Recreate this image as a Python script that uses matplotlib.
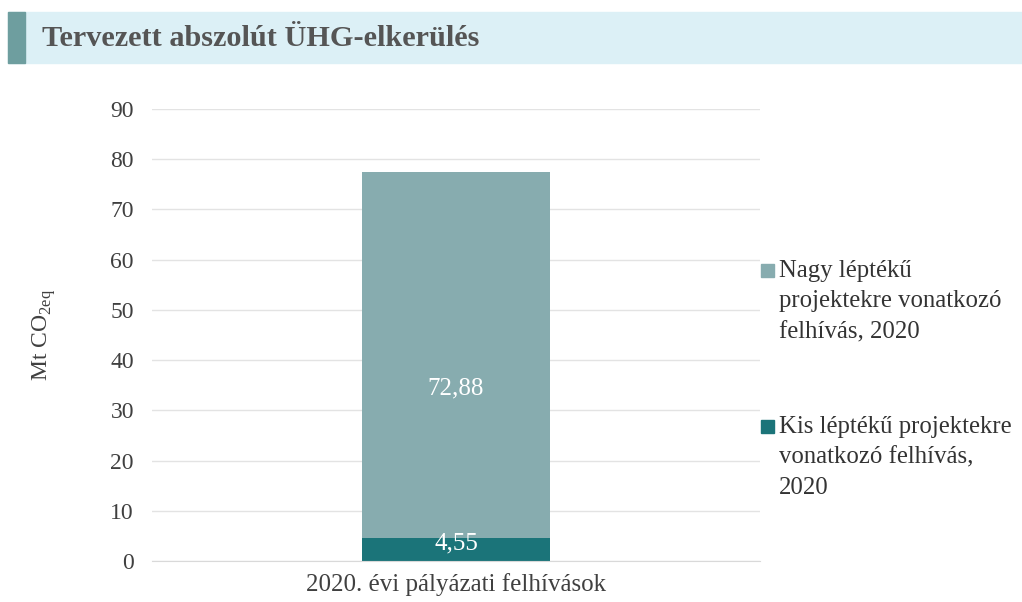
import matplotlib.pyplot as plt
from matplotlib.patches import Rectangle

plt.rcParams['font.family'] = ['Liberation Serif', 'DejaVu Serif']
plt.rcParams['mathtext.fontset'] = 'custom'
plt.rcParams['mathtext.rm'] = 'Liberation Serif'

category = ["2020. évi pályázati felhívások"]
small_values = [4.55]
large_values = [72.88]
series_labels = ["Kis léptékű projektekre\nvonatkozó felhívás,\n2020",
                 "Nagy léptékű\nprojektekre vonatkozó\nfelhívás, 2020"]
yticks = [0, 10, 20, 30, 40, 50, 60, 70, 80, 90]

c_small = "#1b7479"
c_large = "#87acaf"
W, H = 1022, 602

fig = plt.figure(figsize=(W / 100, H / 100), dpi=100)

# title banner
fig.patches.append(Rectangle((8 / W, 1 - 63 / H), (W - 8) / W, 51 / H,
                             transform=fig.transFigure, color="#dcf0f6", zorder=0))
fig.patches.append(Rectangle((8 / W, 1 - 63 / H), 17 / W, 51 / H,
                             transform=fig.transFigure, color="#6e9e9f", zorder=1))
fig.text(42 / W, 1 - 39 / H, "Tervezett abszolút ÜHG-elkerülés", fontsize=21.8,
         fontweight="bold", color="#555555", va="center", ha="left")

ax = fig.add_axes([152 / W, 1 - 561 / H, 608 / W, 452 / H])
x = range(len(category))
b1 = ax.bar(x, small_values, width=0.31, color=c_small, zorder=2)
b2 = ax.bar(x, large_values, width=0.31, bottom=small_values, color=c_large, zorder=2)

for i in x:
    ax.text(i, small_values[i] / 2 + 1.2, f"{small_values[i]:.2f}".replace(".", ","),
            ha="center", va="center", color="white", fontsize=18)
    ax.text(i, small_values[i] + large_values[i] * 0.41, f"{large_values[i]:.2f}".replace(".", ","),
            ha="center", va="center", color="white", fontsize=18)

ax.set_xlim(-0.5, 0.5)
ax.set_ylim(0, 90)
ax.set_yticks(yticks)
ax.set_xticks(list(x))
ax.set_xticklabels(category, fontsize=18, color="#404040")
ax.tick_params(axis="y", labelsize=17, labelcolor="#404040", length=0, pad=13)
ax.tick_params(axis="x", length=0, pad=9)
ax.grid(axis="y", color="#e3e3e3", linewidth=1, zorder=0)
for s in ["top", "right", "left"]:
    ax.spines[s].set_visible(False)
ax.spines["bottom"].set_color("#d9d9d9")
ax.set_ylabel("Mt CO$_{\\mathrm{2eq}}$", fontsize=17, color="#404040", labelpad=38)

# legend (manual, large spacing)
legend_items = [(c_large, series_labels[1], 270), (c_small, series_labels[0], 426)]
for col, lab, ypx in legend_items:
    fig.patches.append(Rectangle((761 / W, 1 - (ypx + 7) / H), 13 / W, 13 / H,
                                 transform=fig.transFigure, color=col))
    fig.text(779 / W, 1 - (ypx - 10) / H, lab, fontsize=17.8, color="#333333",
             va="top", ha="left", linespacing=1.5)

fig.savefig("out.png", dpi=100)
